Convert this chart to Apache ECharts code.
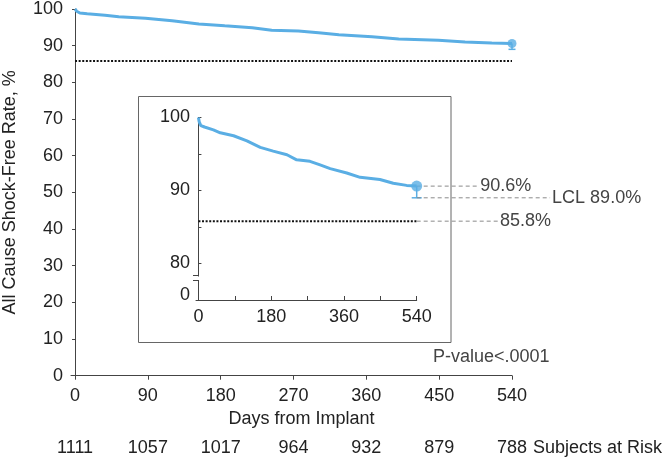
<!DOCTYPE html>
<html>
<head>
<meta charset="utf-8">
<script src="https://cdn.jsdelivr.net/npm/echarts@6/dist/echarts.min.js"></script>
<style>
html,body{margin:0;padding:0;background:#fff;}
#chart{width:666px;height:460px;}
</style>
</head>
<body>
<div id="chart"></div>
<script>
// ---- data ----
const days =     [0,   2,    6,    15,   37,   54,   87,   120,  153,  185,  219,  243,  276,  301,  326,  367,  400,  449,  482,  515,  540];
const survival = [100, 99.4, 98.9, 98.7, 98.3, 97.9, 97.5, 96.8, 95.9, 95.4, 94.9, 94.2, 94.0, 93.5, 93.0, 92.4, 91.8, 91.5, 91.0, 90.7, 90.6];
const xTicks = [0, 90, 180, 270, 360, 450, 540];
const atRisk = [1111, 1057, 1017, 964, 932, 879, 788];
const insetXLabels = [0, 180, 360, 540];
const insetYTicks = [80, 85, 90, 95, 100];
const finalDay = 540;
const estimate = 90.6;
const lcl = 89.0;
const goal = 85.8;
const pValueText = 'P-value<.0001';
// annotation leader-line ends (days on the inset scale)
const leaderEnds = {estimate: 692, lcl: 870, goal: 741};

// ---- styles ----
const FONT = "'Liberation Sans', Arial, Helvetica, sans-serif";
const BLUE = '#5aaee4';
const TXT = '#222';
const GREY = '#444';

const curve = days.map((d, i) => [d, survival[i]]);

const errorBar = (cap, lw) => function (params, api) {
  const p = api.coord([api.value(0), api.value(1)]);
  const q = api.coord([api.value(0), api.value(2)]);
  return {
    type: 'group',
    children: [
      {type: 'line', shape: {x1: p[0], y1: p[1], x2: q[0], y2: q[1]}, style: {stroke: BLUE, lineWidth: lw}},
      {type: 'line', shape: {x1: q[0] - cap, y1: q[1], x2: q[0] + cap, y2: q[1]}, style: {stroke: BLUE, lineWidth: lw}}
    ]
  };
};

// inset geometry
const insetLeft = 196, insetRight = 249.3, insetTop = 117.5, insetBottom = 160;
const insetMin = -6;
const insetWidth = 666 - insetLeft - insetRight;
const insetScale = insetWidth / (finalDay - insetMin);
const annRight = 6;
const annMax = insetMin + (666 - insetLeft - annRight) / insetScale;

const DOTS = {color: '#111', width: 2, type: [2, 1.6]};

const chart = echarts.init(document.getElementById('chart'));
chart.setOption({
  animation: false,
  backgroundColor: '#fff',
  textStyle: {fontFamily: FONT},
  grid: [
    {left: 71, right: 154, top: 9, bottom: 84.3, containLabel: false, outerBoundsMode: 'none'},
    {left: insetLeft, right: insetRight, top: insetTop, bottom: insetBottom, containLabel: false, outerBoundsMode: 'none'},
    {left: insetLeft, right: annRight, top: insetTop, bottom: insetBottom, containLabel: false, outerBoundsMode: 'none'}
  ],
  xAxis: [
    {
      gridIndex: 0, type: 'value', min: -5, max: 540,
      axisLine: {lineStyle: {color: GREY, width: 1}},
      axisTick: {show: true, length: 4, customValues: xTicks, lineStyle: {color: GREY}},
      axisLabel: {customValues: xTicks, color: TXT, fontSize: 18, margin: 11, fontFamily: FONT},
      splitLine: {show: false},
      name: 'Days from Implant', nameLocation: 'middle', nameGap: 33,
      nameTextStyle: {fontSize: 18, color: TXT, fontFamily: FONT, padding: [0, 0, 0, 20]}
    },
    {
      gridIndex: 0, type: 'value', min: -5, max: 540, position: 'bottom', offset: 72,
      axisLine: {show: false}, axisTick: {show: false}, splitLine: {show: false},
      axisLabel: {
        customValues: xTicks, color: TXT, fontSize: 18, margin: 0, verticalAlign: 'middle', fontFamily: FONT,
        formatter: v => String(atRisk[xTicks.indexOf(v)])
      },
      name: 'Subjects at Risk', nameLocation: 'end', nameGap: 21,
      nameTextStyle: {fontSize: 18, color: TXT, fontFamily: FONT, verticalAlign: 'middle', align: 'left'}
    },
    {
      gridIndex: 1, type: 'value', min: insetMin, max: finalDay,
      axisLine: {lineStyle: {color: GREY, width: 1}},
      axisTick: {show: true, inside: true, length: 4, customValues: xTicks, lineStyle: {color: GREY}},
      axisLabel: {customValues: insetXLabels, color: TXT, fontSize: 18, margin: 8, fontFamily: FONT},
      splitLine: {show: false}
    },
    {
      gridIndex: 2, type: 'value', min: insetMin, max: annMax, show: false
    }
  ],
  yAxis: [
    {
      gridIndex: 0, type: 'value', min: 0, max: 100, interval: 10,
      axisLine: {show: true, lineStyle: {color: GREY, width: 1}},
      axisTick: {show: true, length: 3, lineStyle: {color: GREY}},
      axisLabel: {color: TXT, fontSize: 18, margin: 8, fontFamily: FONT},
      splitLine: {show: false},
      name: 'All Cause Shock-Free Rate, %', nameLocation: 'middle', nameGap: 52,
      nameTextStyle: {fontSize: 18, color: TXT, fontFamily: FONT}
    },
    {
      gridIndex: 1, type: 'value', min: 75, max: 100,
      axisLine: {show: true, lineStyle: {color: GREY, width: 1}},
      axisTick: {show: true, inside: true, length: 3, customValues: insetYTicks, lineStyle: {color: GREY}},
      axisLabel: {
        customValues: [75.7, 80, 90, 100], color: TXT, fontSize: 18, margin: 6, fontFamily: FONT,
        formatter: v => (v < 78 ? '0' : String(v))
      },
      splitLine: {show: false}
    },
    {
      gridIndex: 2, type: 'value', min: 75, max: 100, show: false
    }
  ],
  series: [
    // main chart
    {
      type: 'line', xAxisIndex: 0, yAxisIndex: 0, data: [[0, goal], [finalDay, goal]],
      symbol: 'none', lineStyle: DOTS, z: 2
    },
    {
      type: 'line', xAxisIndex: 0, yAxisIndex: 0, data: curve,
      symbol: 'none', lineStyle: {color: BLUE, width: 3}, z: 3
    },
    {
      type: 'custom', xAxisIndex: 0, yAxisIndex: 0, data: [[finalDay, estimate, lcl]],
      renderItem: errorBar(3.5, 1.5), clip: false, z: 3
    },
    {
      type: 'scatter', xAxisIndex: 0, yAxisIndex: 0, data: [[finalDay, estimate]],
      symbol: 'circle', symbolSize: 9, itemStyle: {color: BLUE}, z: 4
    },
    // inset leader lines (drawn first so marks sit on top)
    {
      type: 'line', xAxisIndex: 3, yAxisIndex: 2, data: [[finalDay, estimate], [leaderEnds.estimate, estimate]],
      symbol: 'none', lineStyle: {color: '#8a8a8a', width: 1, type: [4, 3]}, silent: true,
      endLabel: {show: true, formatter: estimate.toFixed(1) + '%', color: GREY, fontSize: 18, distance: 2, fontFamily: FONT}
    },
    {
      type: 'line', xAxisIndex: 3, yAxisIndex: 2, data: [[finalDay, lcl], [leaderEnds.lcl, lcl]],
      symbol: 'none', lineStyle: {color: '#8a8a8a', width: 1, type: [4, 3]}, silent: true,
      endLabel: {show: true, formatter: 'LCL ' + lcl.toFixed(1) + '%', color: GREY, fontSize: 18, distance: 2, fontFamily: FONT}
    },
    {
      type: 'line', xAxisIndex: 3, yAxisIndex: 2, data: [[finalDay, goal], [leaderEnds.goal, goal]],
      symbol: 'none', lineStyle: {color: '#8a8a8a', width: 1, type: [4, 3]}, silent: true,
      endLabel: {show: true, formatter: goal.toFixed(1) + '%', color: GREY, fontSize: 18, distance: 2, fontFamily: FONT}
    },
    // inset chart
    {
      type: 'line', xAxisIndex: 2, yAxisIndex: 1, data: [[0, goal], [finalDay, goal]],
      symbol: 'none', lineStyle: DOTS, z: 2
    },
    {
      type: 'line', xAxisIndex: 2, yAxisIndex: 1, data: curve,
      symbol: 'none', lineStyle: {color: BLUE, width: 3}, z: 3
    },
    {
      type: 'custom', xAxisIndex: 2, yAxisIndex: 1, data: [[finalDay, estimate, lcl]],
      renderItem: errorBar(5, 1.5), clip: false, z: 3
    },
    {
      type: 'scatter', xAxisIndex: 2, yAxisIndex: 1, data: [[finalDay, estimate]],
      symbol: 'circle', symbolSize: 11, itemStyle: {color: BLUE}, z: 4
    }
  ],
  graphic: [
    {
      type: 'rect', shape: {x: 138.5, y: 96.5, width: 312.5, height: 246}, silent: true,
      style: {fill: 'none', stroke: '#666', lineWidth: 1}, z: 0
    },
    {
      type: 'rect', shape: {x: 192, y: 276.5, width: 8, height: 3.5}, silent: true,
      style: {fill: '#fff'}, z: 100
    },
    {
      type: 'line', shape: {x1: 193, y1: 275.5, x2: 199, y2: 275.5}, silent: true,
      style: {stroke: GREY, lineWidth: 1}, z: 101
    },
    {
      type: 'line', shape: {x1: 193, y1: 280.5, x2: 199, y2: 280.5}, silent: true,
      style: {stroke: GREY, lineWidth: 1}, z: 101
    },
    {
      type: 'text', x: 433, y: 357, silent: true,
      style: {text: pValueText, fill: GREY, font: '18px ' + FONT, textVerticalAlign: 'middle', verticalAlign: 'middle'}
    }
  ]
});
</script>
</body>
</html>
